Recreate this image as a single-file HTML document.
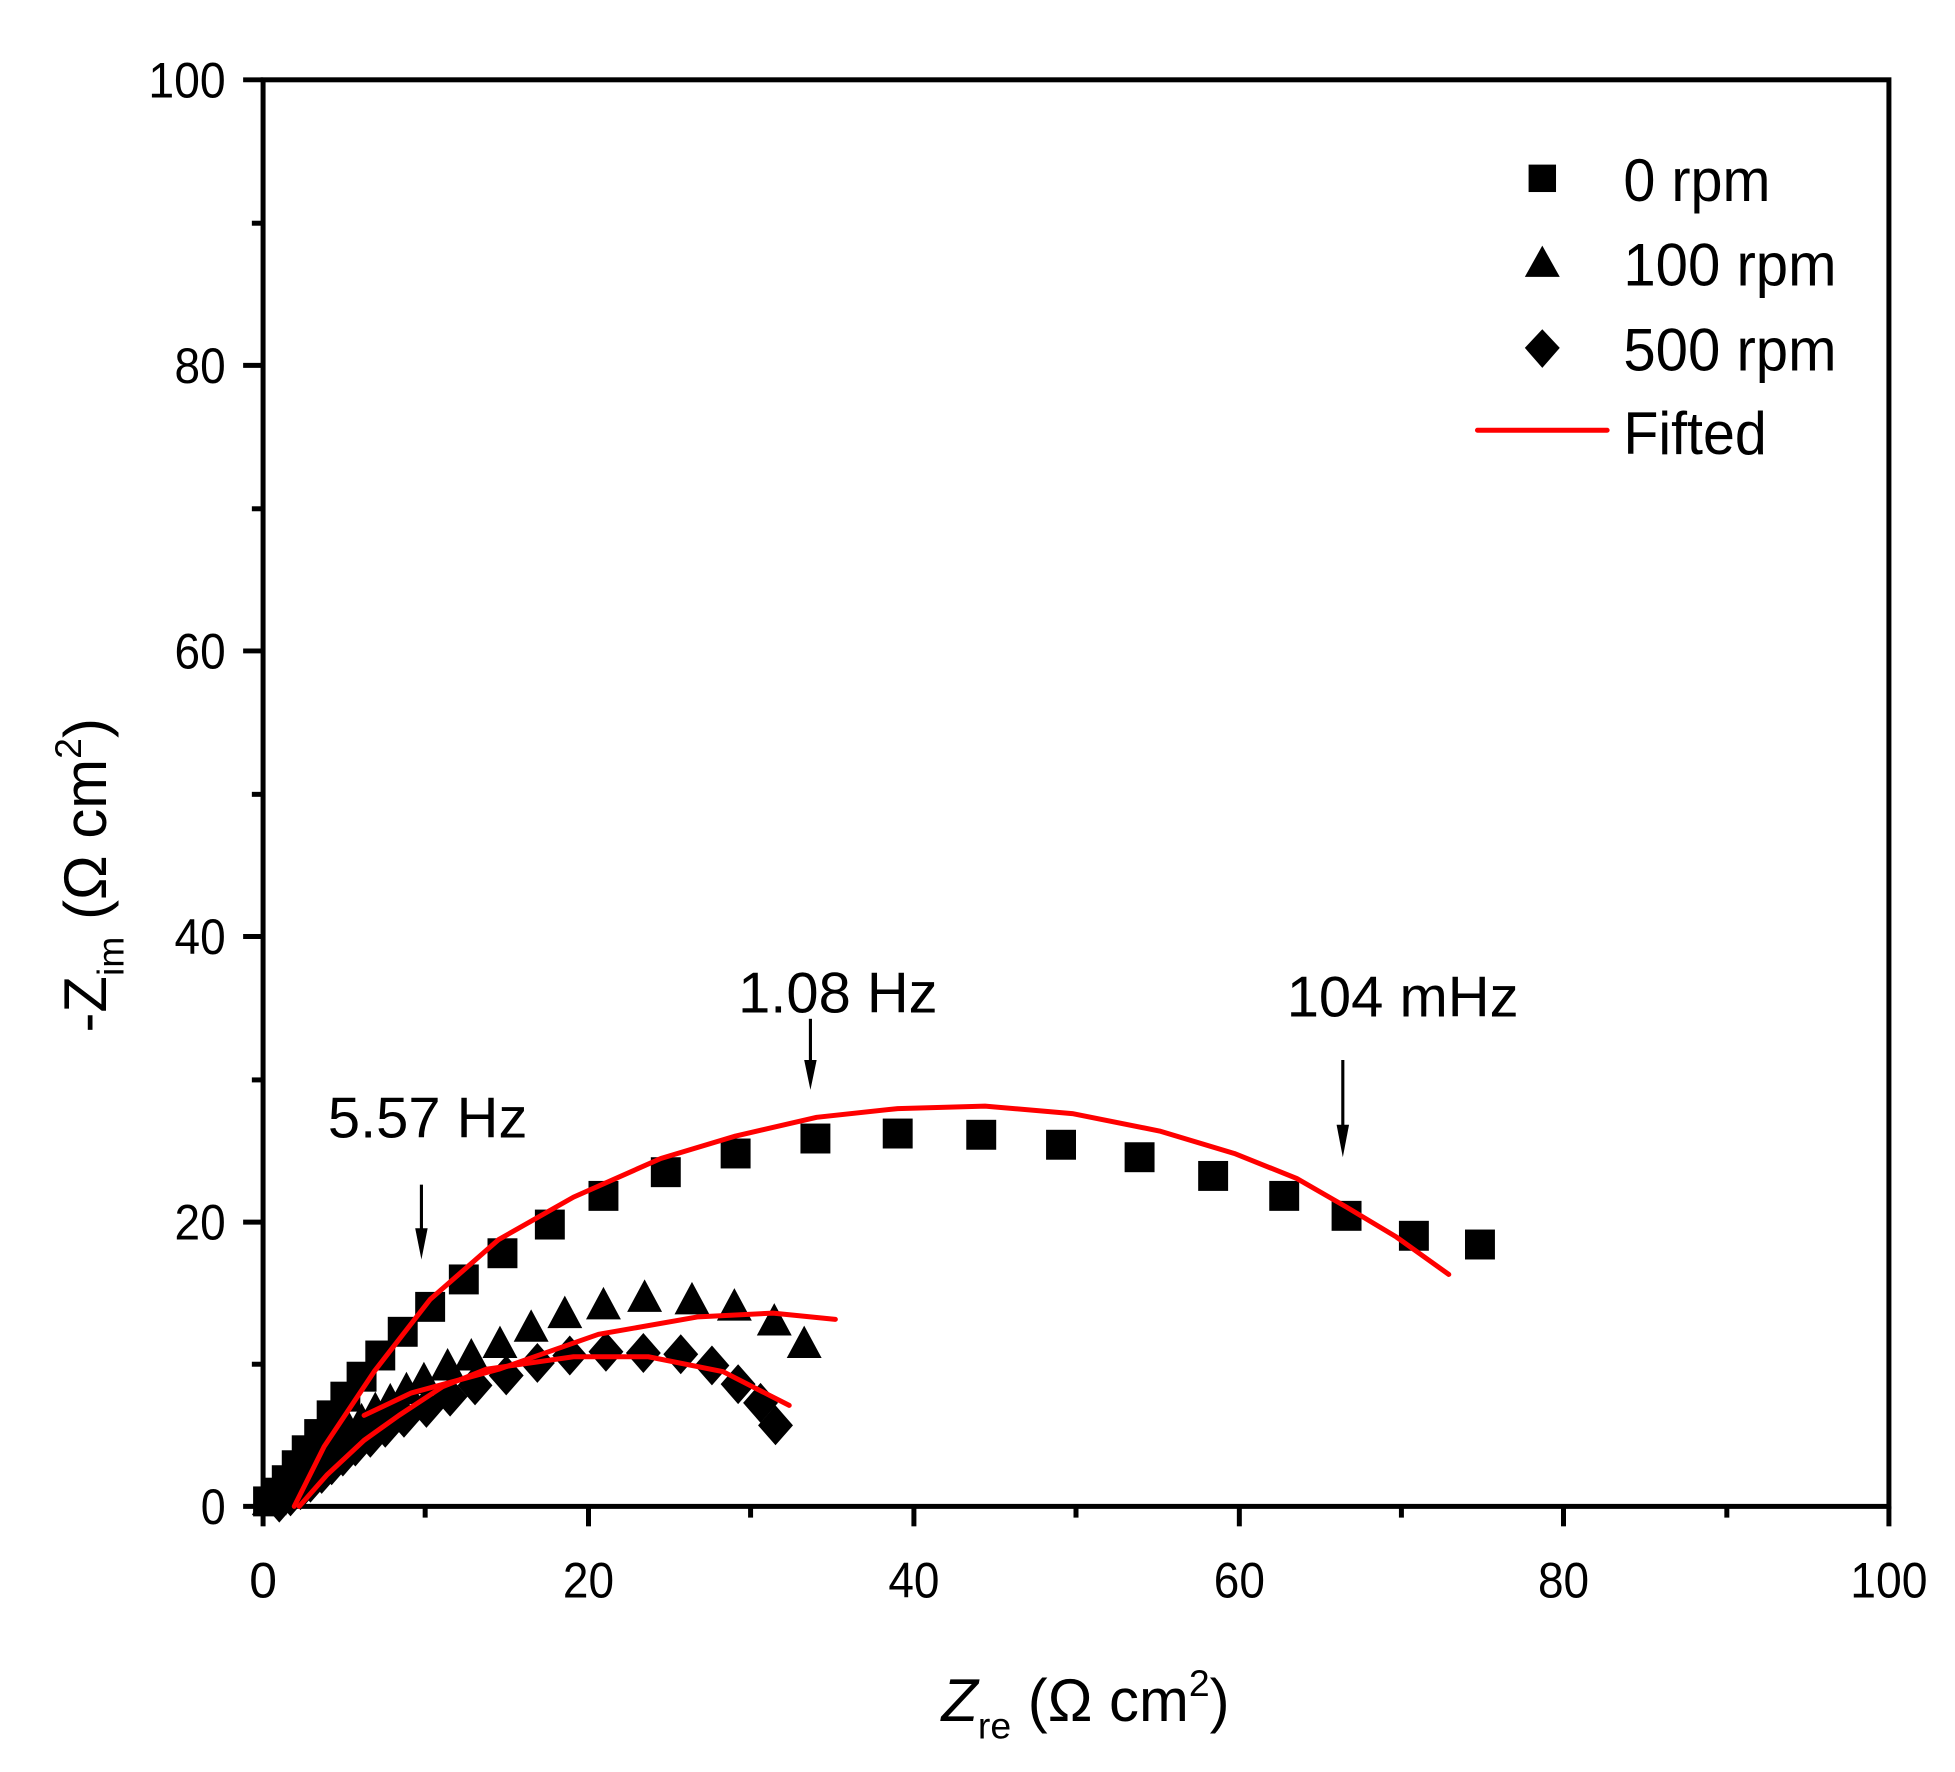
<!DOCTYPE html>
<html><head><meta charset="utf-8"><style>html,body{margin:0;padding:0;background:#fff}svg{display:block}</style></head>
<body>
<svg width="1955" height="1772" viewBox="0 0 1568 1421" preserveAspectRatio="none" xmlns="http://www.w3.org/2000/svg" font-family="Liberation Sans, sans-serif">
<defs>
<rect id="sq" x="-12" y="-12" width="24" height="24" fill="#000"/>
<polygon id="tr" points="0,-15 14,11 -14,11" fill="#000"/>
<polygon id="dm" points="0,-16 14,0 0,16 -14,0" fill="#000"/>
</defs>
<rect x="0" y="0" width="1568" height="1421" fill="#fff"/>
<rect x="211" y="64" width="1304" height="1144" fill="none" stroke="#000" stroke-width="4"/>
<g stroke="#000" stroke-width="4">
<line x1="195" y1="64" x2="211" y2="64"/><line x1="195" y1="293" x2="211" y2="293"/><line x1="195" y1="522" x2="211" y2="522"/><line x1="195" y1="751" x2="211" y2="751"/><line x1="195" y1="980" x2="211" y2="980"/><line x1="195" y1="1208" x2="211" y2="1208"/>
<line x1="202" y1="179" x2="211" y2="179"/><line x1="202" y1="408" x2="211" y2="408"/><line x1="202" y1="637" x2="211" y2="637"/><line x1="202" y1="866" x2="211" y2="866"/><line x1="202" y1="1094" x2="211" y2="1094"/>
<line x1="211" y1="1208" x2="211" y2="1224"/><line x1="472" y1="1208" x2="472" y2="1224"/><line x1="733" y1="1208" x2="733" y2="1224"/><line x1="994" y1="1208" x2="994" y2="1224"/><line x1="1254" y1="1208" x2="1254" y2="1224"/><line x1="1515" y1="1208" x2="1515" y2="1224"/>
<line x1="341" y1="1208" x2="341" y2="1217"/><line x1="602" y1="1208" x2="602" y2="1217"/><line x1="863" y1="1208" x2="863" y2="1217"/><line x1="1124" y1="1208" x2="1124" y2="1217"/><line x1="1385" y1="1208" x2="1385" y2="1217"/>
</g>
<g font-size="40" text-anchor="end" fill="#000">
<text x="181" y="78" textLength="62" lengthAdjust="spacingAndGlyphs">100</text><text x="181" y="307" textLength="41" lengthAdjust="spacingAndGlyphs">80</text><text x="181" y="536" textLength="41" lengthAdjust="spacingAndGlyphs">60</text><text x="181" y="765" textLength="41" lengthAdjust="spacingAndGlyphs">40</text><text x="181" y="994" textLength="41" lengthAdjust="spacingAndGlyphs">20</text><text x="181" y="1222" textLength="20" lengthAdjust="spacingAndGlyphs">0</text>
</g>
<g font-size="40" text-anchor="middle" fill="#000">
<text x="211" y="1281">0</text><text x="472" y="1281" textLength="41" lengthAdjust="spacingAndGlyphs">20</text><text x="733" y="1281" textLength="41" lengthAdjust="spacingAndGlyphs">40</text><text x="994" y="1281" textLength="41" lengthAdjust="spacingAndGlyphs">60</text><text x="1254" y="1281" textLength="41" lengthAdjust="spacingAndGlyphs">80</text><text x="1515" y="1281" textLength="62" lengthAdjust="spacingAndGlyphs">100</text>
</g>
<text x="755" y="1380" font-size="48" fill="#000"><tspan font-style="italic">Z</tspan><tspan font-size="30" dy="14">re</tspan><tspan dy="-14"> (Ω cm</tspan><tspan font-size="30" dy="-20">2</tspan><tspan dy="20">)</tspan></text>
<text transform="translate(85,828) rotate(-90)" font-size="48" fill="#000">-Z<tspan font-size="30" dy="14">im</tspan><tspan dy="-14"> (Ω cm</tspan><tspan font-size="30" dy="-20">2</tspan><tspan dy="20">)</tspan></text>
<g font-size="46" fill="#000">
<text x="263" y="912" textLength="160" lengthAdjust="spacingAndGlyphs">5.57 Hz</text>
<text x="592" y="812" textLength="160" lengthAdjust="spacingAndGlyphs">1.08 Hz</text>
<text x="1032" y="815" textLength="186" lengthAdjust="spacingAndGlyphs">104 mHz</text>
</g>
<g stroke="#000" stroke-width="2.5" fill="#000">
<line x1="338" y1="950" x2="338" y2="995"/><polygon points="333,985 343,985 338,1010" stroke="none"/>
<line x1="650" y1="817" x2="650" y2="860"/><polygon points="645,850 655,850 650,874" stroke="none"/>
<line x1="1077" y1="850" x2="1077" y2="912"/><polygon points="1072,902 1082,902 1077,928" stroke="none"/>
</g>
<g>
<use href="#sq" x="345" y="1048"/><use href="#sq" x="372" y="1026"/><use href="#sq" x="403" y="1005"/><use href="#sq" x="441" y="982"/><use href="#sq" x="484" y="959"/><use href="#sq" x="534" y="940"/><use href="#sq" x="590" y="925"/><use href="#sq" x="654" y="913"/><use href="#sq" x="720" y="909"/><use href="#sq" x="787" y="910"/><use href="#sq" x="851" y="918"/><use href="#sq" x="914" y="928"/><use href="#sq" x="973" y="943"/><use href="#sq" x="1030" y="959"/><use href="#sq" x="1080" y="975"/><use href="#sq" x="1134" y="991"/><use href="#sq" x="1187" y="998"/>
<use href="#sq" x="323" y="1068"/><use href="#sq" x="305" y="1087"/><use href="#sq" x="290" y="1104"/><use href="#sq" x="277" y="1120"/><use href="#sq" x="266" y="1135"/><use href="#sq" x="256" y="1150"/><use href="#sq" x="246" y="1163"/><use href="#sq" x="238" y="1175"/><use href="#sq" x="230" y="1187"/><use href="#sq" x="222" y="1197"/><use href="#sq" x="215" y="1204"/>
</g>
<g>
<use href="#tr" x="645" y="1078"/><use href="#tr" x="621" y="1060"/><use href="#tr" x="589" y="1048"/><use href="#tr" x="555" y="1043"/><use href="#tr" x="517" y="1041"/><use href="#tr" x="484" y="1047"/><use href="#tr" x="453" y="1054"/><use href="#tr" x="426" y="1065"/><use href="#tr" x="401" y="1078"/><use href="#tr" x="378" y="1088"/><use href="#tr" x="359" y="1096"/><use href="#tr" x="340" y="1107"/><use href="#tr" x="326" y="1115"/><use href="#tr" x="313" y="1124"/><use href="#tr" x="301" y="1131"/><use href="#tr" x="290" y="1140"/><use href="#tr" x="280" y="1147"/><use href="#tr" x="270" y="1155"/><use href="#tr" x="262" y="1163"/><use href="#tr" x="253" y="1170"/><use href="#tr" x="245" y="1178"/><use href="#tr" x="237" y="1185"/><use href="#tr" x="230" y="1192"/><use href="#tr" x="222" y="1199"/><use href="#tr" x="216" y="1204"/>
</g>
<g>
<use href="#dm" x="622" y="1143"/><use href="#dm" x="610" y="1125"/><use href="#dm" x="592" y="1110"/><use href="#dm" x="571" y="1095"/><use href="#dm" x="546" y="1086"/><use href="#dm" x="516" y="1085"/><use href="#dm" x="486" y="1084"/><use href="#dm" x="457" y="1087"/><use href="#dm" x="431" y="1093"/><use href="#dm" x="406" y="1103"/><use href="#dm" x="381" y="1111"/><use href="#dm" x="361" y="1120"/><use href="#dm" x="342" y="1129"/><use href="#dm" x="324" y="1137"/><use href="#dm" x="309" y="1145"/><use href="#dm" x="297" y="1153"/><use href="#dm" x="285" y="1160"/><use href="#dm" x="275" y="1168"/><use href="#dm" x="266" y="1175"/><use href="#dm" x="258" y="1182"/><use href="#dm" x="249" y="1189"/><use href="#dm" x="241" y="1195"/><use href="#dm" x="233" y="1200"/><use href="#dm" x="224" y="1205"/>
</g>
<g fill="none" stroke="#f00" stroke-width="4" stroke-linejoin="round" stroke-linecap="round">
<polyline points="236,1208 260,1160 300,1100 345,1042 400,994 460,960 530,929 590,911 655,896 720,889 790,887 860,893 930,907 990,925 1040,945 1080,968 1120,992 1162,1022"/>
<polyline points="292,1135 330,1117 400,1098 480,1070 560,1056 620,1053 670,1058"/>
<polyline points="240,1208 262,1183 292,1155 320,1135 355,1112 390,1098 460,1088 520,1088 580,1100 633,1127"/>
</g>
<rect x="1226" y="132" width="22" height="22" fill="#000"/>
<polygon points="1237,197 1251,222 1223,222" fill="#000"/>
<polygon points="1237,264 1251,279 1237,295 1223,279" fill="#000"/>
<line x1="1185" y1="345" x2="1289" y2="345" stroke="#f00" stroke-width="4" stroke-linecap="round"/>
<g font-size="48" fill="#000">
<text x="1302" y="161" textLength="118" lengthAdjust="spacingAndGlyphs">0 rpm</text>
<text x="1302" y="229" textLength="171" lengthAdjust="spacingAndGlyphs">100 rpm</text>
<text x="1302" y="297" textLength="171" lengthAdjust="spacingAndGlyphs">500 rpm</text>
<text x="1302" y="364" textLength="115" lengthAdjust="spacingAndGlyphs">Fifted</text>
</g>
</svg>
</body></html>
